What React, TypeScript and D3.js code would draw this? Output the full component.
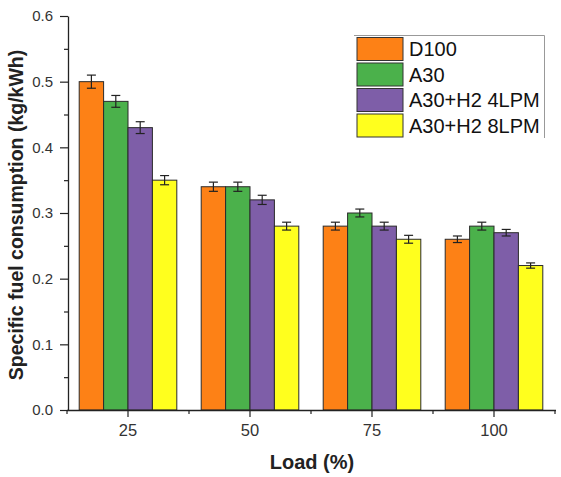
import React, { useEffect, useRef } from 'react';
import * as d3 from 'd3';

const loads = ['25', '50', '75', '100'];
const seriesNames = ['D100', 'A30', 'A30+H2 4LPM', 'A30+H2 8LPM'];
const seriesColors = ['#FD8116', '#4BB14B', '#7E5EA8', '#FFFF1E'];
// values per series, in the order of loads
const d100 = [0.5, 0.34, 0.28, 0.26];
const a30 = [0.47, 0.34, 0.3, 0.28];
const h4 = [0.43, 0.32, 0.28, 0.27];
const h8 = [0.35, 0.28, 0.26, 0.22];
const d100Err = [0.01, 0.007, 0.006, 0.005];
const a30Err = [0.009, 0.007, 0.006, 0.006];
const h4Err = [0.009, 0.007, 0.006, 0.005];
const h8Err = [0.007, 0.006, 0.006, 0.004];
const yTicks = [0, 0.1, 0.2, 0.3, 0.4, 0.5, 0.6];

const App = () => {
  const ref = useRef<SVGSVGElement | null>(null);

  useEffect(() => {
    document.body.style.margin = '0';
    const svg = d3.select(ref.current);
    svg.selectAll('*').remove();
    const font = 'Liberation Sans, Arial, sans-serif';

    const left = 68;
    const right = 556;
    const top = 16;
    const bottom = 410;

    const values = [d100, a30, h4, h8];
    const errs = [d100Err, a30Err, h4Err, h8Err];

    const x0 = d3.scaleBand().domain(loads).range([left - 1, right - 1]);
    const step = x0.step();
    const x1 = d3.scaleBand().domain(seriesNames).range([step * 0.1, step * 0.9]);
    const y = d3.scaleLinear().domain([0, 0.6]).range([bottom, top]);

    const rows = loads.flatMap((load, i) => seriesNames.map((s, j) => ({
      load, s, j, v: values[j][i], e: errs[j][i],
    })));

    // bars
    svg.append('g')
      .selectAll('rect')
      .data(rows)
      .enter().append('rect')
      .attr('x', (d) => x0(d.load)! + x1(d.s)!)
      .attr('y', (d) => y(d.v))
      .attr('width', x1.bandwidth())
      .attr('height', (d) => y(0) - y(d.v))
      .attr('fill', (d) => seriesColors[d.j])
      .attr('stroke', '#2b2b2b')
      .attr('stroke-width', 1);

    // error bars
    const eb = svg.append('g').attr('stroke', '#222').attr('stroke-width', 1.2);
    rows.forEach((d) => {
      const cx = x0(d.load)! + x1(d.s)! + x1.bandwidth() / 2;
      eb.append('line').attr('x1', cx).attr('x2', cx).attr('y1', y(d.v + d.e)).attr('y2', y(d.v - d.e));
      eb.append('line').attr('x1', cx - 4.5).attr('x2', cx + 4.5).attr('y1', y(d.v + d.e)).attr('y2', y(d.v + d.e));
      eb.append('line').attr('x1', cx - 4.5).attr('x2', cx + 4.5).attr('y1', y(d.v - d.e)).attr('y2', y(d.v - d.e));
    });

    // y axis
    const yAxis = svg.append('g').attr('transform', `translate(${left},0)`)
      .call(d3.axisLeft(y).tickValues(yTicks).tickFormat(d3.format('.1f')).tickSize(8).tickSizeOuter(0));
    yAxis.select('.domain').attr('stroke', '#222').attr('stroke-width', 1.3);
    yAxis.selectAll('.tick line').attr('stroke', '#222').attr('stroke-width', 1.2);
    yAxis.selectAll('.tick text').attr('font-family', font).attr('font-size', 15).attr('fill', '#333').attr('x', -15);
    svg.append('g').attr('transform', `translate(${left},0)`)
      .call(d3.axisLeft(y).tickValues(d3.range(0.05, 0.6, 0.1)).tickFormat(() => '').tickSize(4).tickSizeOuter(0))
      .call((g) => g.select('.domain').remove())
      .selectAll('.tick line').attr('stroke', '#222').attr('stroke-width', 1.2);

    // x axis
    const xAxis = svg.append('g').attr('transform', `translate(0,${bottom})`)
      .call(d3.axisBottom(x0).tickSize(7).tickSizeOuter(0));
    xAxis.select('.domain').attr('stroke', '#222').attr('stroke-width', 1.3)
      .attr('d', `M${left - 1},0.5H${right}`);
    xAxis.selectAll('.tick line').attr('stroke', '#222').attr('stroke-width', 1.2);
    xAxis.selectAll('.tick text').attr('font-family', font).attr('font-size', 16.5).attr('fill', '#333').attr('y', 14);
    const edges = [...loads.map((l) => x0(l)!), right - 1];
    svg.append('g').attr('stroke', '#222').attr('stroke-width', 1.2)
      .selectAll('line').data(edges).enter().append('line')
      .attr('x1', (d) => d).attr('x2', (d) => d)
      .attr('y1', bottom).attr('y2', bottom + 4);

    // axis titles
    svg.append('text')
      .attr('transform', `translate(23,${(top + bottom) / 2 + 2}) rotate(-90)`)
      .attr('text-anchor', 'middle')
      .attr('font-family', font).attr('font-weight', 700).attr('font-size', 19.5).attr('fill', '#222')
      .text('Specific fuel consumption (kg/kWh)');
    svg.append('text')
      .attr('x', (left + right) / 2).attr('y', 469)
      .attr('text-anchor', 'middle')
      .attr('font-family', font).attr('font-weight', 700).attr('font-size', 20).attr('fill', '#222')
      .text('Load (%)');

    // legend
    const lg = svg.append('g');
    lg.append('path').attr('d', 'M354,35.5H544.5V138').attr('fill', 'none').attr('stroke', '#999').attr('stroke-width', 1);
    const item = lg.selectAll('g.item').data(seriesNames).enter().append('g')
      .attr('transform', (d, i) => `translate(357,${37.5 + i * 25.5})`);
    item.append('rect').attr('width', 46).attr('height', 23)
      .attr('fill', (d, i) => seriesColors[i]).attr('stroke', '#333').attr('stroke-width', 1);
    item.append('text').attr('x', 52).attr('y', 18.5)
      .attr('font-family', font).attr('font-size', 20).attr('fill', '#111')
      .text((d) => d);
  }, []);

  return <svg ref={ref} width={561} height={477} style={{ display: 'block', background: '#fff' }} />;
};

export default App;
